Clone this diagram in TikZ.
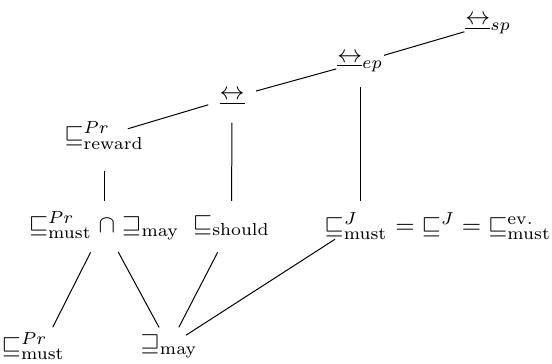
\documentclass[tikz,border=0pt]{standalone}
\usepackage{amssymb}
\usetikzlibrary{positioning}
\newcommand{\bisim}{\mathrel{\underline{\leftrightarrow}}}
\begin{document}
\begin{tikzpicture}[
  rel/.style={inner sep=1pt},
  line/.style={thin, shorten <=10pt, shorten >=10pt},
  down/.style={thin, shorten <=12pt, shorten >=8.5pt}
]
\useasboundingbox (0,0) rectangle (7.8,5.14);
% Bisimulations
\node[rel] (sp) at (6.90,4.79) {$\bisim_{sp}$};
\node[rel] (ep) at (5.09,4.26) {$\bisim_{ep}$};
\node[rel] (bis) at (3.28,3.76) {$\bisim$};

% Refinements
\node[rel] (rew) at (1.47,3.22) {$\sqsubseteq^{Pr}_{\mathrm{reward}}$};
\node[rel] (meet) at (1.47,1.95) {$\sqsubseteq^{Pr}_{\mathrm{must}} \cap \sqsupseteq_{\mathrm{may}}$};
\node[rel] (should) at (3.27,1.95) {$\sqsubseteq_{\mathrm{should}}$};
\node[rel] (jmust) at (5.03,1.95) {$\sqsubseteq^{J}_{\mathrm{must}}$};
\node[rel, anchor=base west, inner sep=0pt] (jeq) at ([xshift=-1pt]jmust.base east) {${} = {\sqsubseteq^{J}} = {\sqsubseteq^{\mathrm{ev.}}_{\mathrm{must}}}$};
\node[rel] (mustpr) at (0.47,0.25) {$\sqsubseteq^{Pr}_{\mathrm{must}}$};
\node[rel] (may) at (2.39,0.25) {$\sqsupseteq_{\mathrm{may}}$};

% Lines
\draw[line] (sp.center) -- (ep.center);
\draw[line] (ep.center) -- (bis.center);
\draw[line] (bis.center) -- (rew.center);
\draw[line] (bis.center) -- (should.center);
\draw[line] (ep.center) -- (ep.center |- jmust.center);
\draw[line, shorten <=14pt] (rew.center) -- (meet.center);
\draw[down] (meet.center) -- ([xshift=4pt]mustpr.center);
\draw[down] (meet.center) -- (may.center);
\draw[down] (should.center) -- (may.center);
\draw[line, shorten >=8pt] (jmust.center) -- (may.center);
\end{tikzpicture}
\end{document}
